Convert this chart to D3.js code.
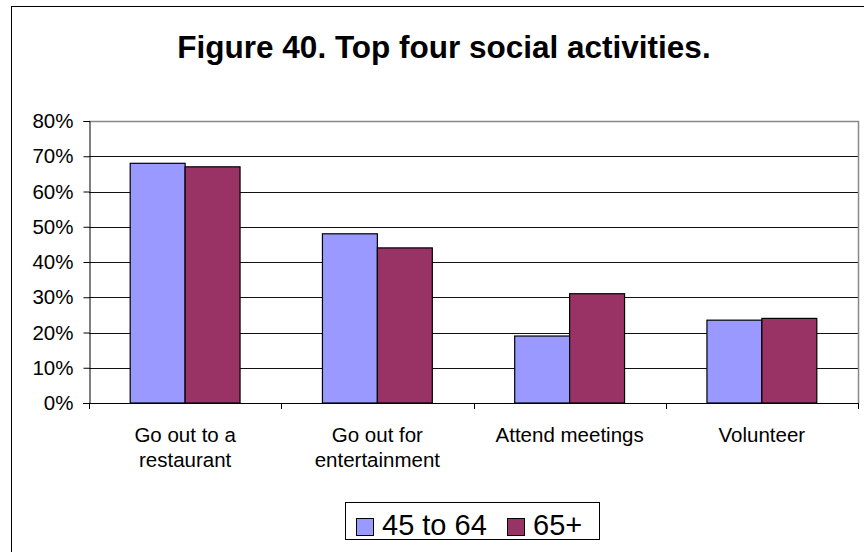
<!DOCTYPE html>
<html>
<head>
<meta charset="utf-8">
<script src="https://cdn.jsdelivr.net/npm/d3@7"></script>
<style>
  html, body { margin: 0; padding: 0; background: #fff; }
  svg { display: block; font-family: Arial, "Liberation Sans", sans-serif; }
</style>
</head>
<body>
<svg id="chart" width="864" height="552"></svg>
<script>
// Survey results: share of respondents taking part in each activity
const categories = [["Go out to a", "restaurant"], ["Go out for", "entertainment"], ["Attend meetings"], ["Volunteer"]];
const seriesNames = ["45 to 64", "65+"];
const seriesColors = ["#9999FF", "#993366"];
const values45to64 = [0.68, 0.48, 0.19, 0.235];
const values65plus = [0.67, 0.44, 0.31, 0.24];
const yTicks = [0, 0.1, 0.2, 0.3, 0.4, 0.5, 0.6, 0.7, 0.8];

const series = [values45to64, values65plus];
const svg = d3.select("#chart");
const W = 864, H = 552;
const plot = { left: 89, right: 858, top: 121, bottom: 403 };

// Outer chart frame
svg.append("rect")
  .attr("x", 11.5).attr("y", 6.5)
  .attr("width", W).attr("height", H)
  .attr("fill", "#fff").attr("stroke", "#000").attr("stroke-width", 1);

// Title
svg.append("text")
  .attr("x", 444).attr("y", 58)
  .attr("text-anchor", "middle")
  .attr("font-size", 31.5).attr("font-weight", "bold")
  .text("Figure 40. Top four social activities.");

const x = d3.scaleBand()
  .domain(d3.range(categories.length))
  .range([plot.left, plot.right])
  .paddingInner(0).paddingOuter(0);

const y = d3.scaleLinear().domain([0, 0.8]).range([plot.bottom, plot.top]);

// Gridlines
svg.append("g")
  .selectAll("line")
  .data(yTicks.filter(t => t > 0 && t < 0.8))
  .join("line")
  .attr("x1", plot.left).attr("x2", plot.right)
  .attr("y1", d => Math.round(y(d)) + 0.5).attr("y2", d => Math.round(y(d)) + 0.5)
  .attr("stroke", "#111").attr("stroke-width", 1);

// Plot area border (top and right)
svg.append("path")
  .attr("d", `M${plot.left},${plot.top + 0.5}H${plot.right + 0.5}V${plot.bottom}`)
  .attr("fill", "none").attr("stroke", "#888").attr("stroke-width", 1.5);

// Bars: gap width of 1.5 bar widths between clusters
const bw = x.bandwidth() / (series.length + 1.5);
const g = svg.append("g");
series.forEach((vals, si) => {
  g.selectAll(null)
    .data(vals)
    .join("rect")
    .attr("x", (d, i) => x(i) + 0.75 * bw + si * bw)
    .attr("y", d => y(d))
    .attr("width", bw)
    .attr("height", d => y(0) - y(d))
    .attr("fill", seriesColors[si])
    .attr("stroke", "#000").attr("stroke-width", 1.2);
});

// Y axis
const yAxis = d3.axisLeft(y)
  .tickValues(yTicks)
  .tickFormat(d3.format(".0%"))
  .tickSize(6).tickPadding(10);
const ya = svg.append("g").attr("transform", `translate(${plot.left + 0.5},0)`).call(yAxis);
ya.select(".domain").attr("stroke", "#000");
ya.selectAll(".tick line").attr("stroke", "#000");
ya.selectAll(".tick text").attr("font-size", 20.5).attr("fill", "#000")
  .attr("font-family", "Arial, 'Liberation Sans', sans-serif");

// X axis line and category boundary ticks
const xb = svg.append("g");
xb.append("line")
  .attr("x1", plot.left - 6).attr("x2", plot.right)
  .attr("y1", plot.bottom + 0.5).attr("y2", plot.bottom + 0.5)
  .attr("stroke", "#000");
const bounds = d3.range(categories.length + 1).map(i => i < categories.length ? x(i) : x(i - 1) + x.bandwidth());
xb.selectAll("line.tk")
  .data(bounds)
  .join("line").attr("class", "tk")
  .attr("x1", d => Math.round(d) + 0.5).attr("x2", d => Math.round(d) + 0.5)
  .attr("y1", plot.bottom).attr("y2", plot.bottom + 6)
  .attr("stroke", "#000");

// Category labels
const labels = svg.append("g");
categories.forEach((lines, i) => {
  const t = labels.append("text")
    .attr("x", x(i) + x.bandwidth() / 2)
    .attr("y", 442)
    .attr("text-anchor", "middle")
    .attr("font-size", 20.5);
  lines.forEach((ln, k) => {
    t.append("tspan").attr("x", x(i) + x.bandwidth() / 2).attr("dy", k === 0 ? 0 : 25).text(ln);
  });
});

// Legend
const lg = svg.append("g");
lg.append("rect")
  .attr("x", 345.5).attr("y", 502.5).attr("width", 254).attr("height", 37)
  .attr("fill", "#fff").attr("stroke", "#000");
const legendItems = [{ sx: 356, tx: 382 }, { sx: 507, tx: 533 }];
seriesNames.forEach((name, i) => {
  lg.append("rect")
    .attr("x", legendItems[i].sx + 0.5).attr("y", 518.5).attr("width", 17).attr("height", 17)
    .attr("fill", seriesColors[i]).attr("stroke", "#000");
  lg.append("text")
    .attr("x", legendItems[i].tx).attr("y", 535)
    .attr("font-size", 29)
    .text(name);
});
</script>
</body>
</html>
